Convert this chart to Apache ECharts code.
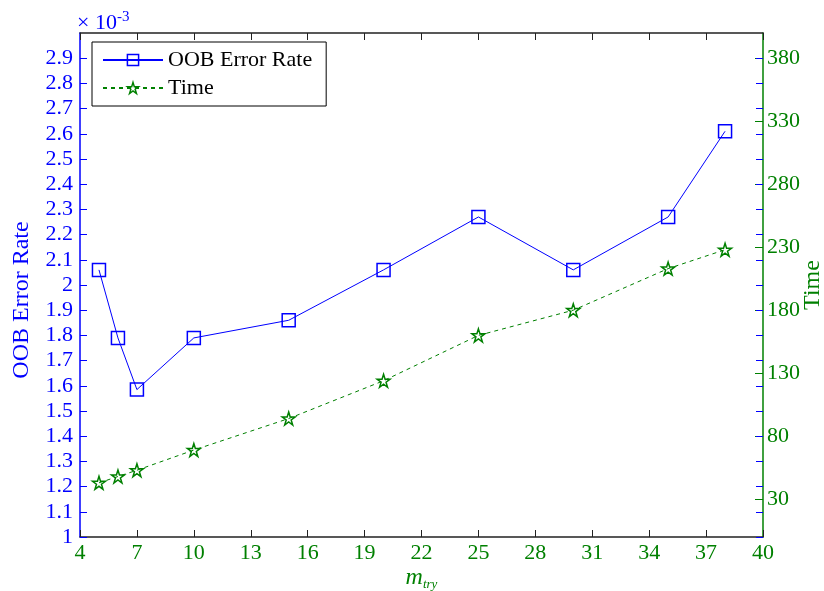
<!DOCTYPE html>
<html>
<head>
<meta charset="utf-8">
<script src="https://cdn.jsdelivr.net/npm/echarts@6/dist/echarts.min.js"></script>
<style>html,body{margin:0;padding:0;background:#fff}#c{width:824px;height:591px}</style>
</head>
<body>
<div id="c"></div>
<script>
var mtry = [5, 6, 7, 10, 15, 20, 25, 30, 35, 38];
var oobError = [2.06, 1.79, 1.585, 1.79, 1.86, 2.06, 2.27, 2.06, 2.27, 2.61];
var timeVals = [43, 48, 53, 69, 94, 124, 160, 180, 213, 228];
var xTicks = [4, 7, 10, 13, 16, 19, 22, 25, 28, 31, 34, 37, 40];
var leftTicks = [1, 1.1, 1.2, 1.3, 1.4, 1.5, 1.6, 1.7, 1.8, 1.9, 2, 2.1, 2.2, 2.3, 2.4, 2.5, 2.6, 2.7, 2.8, 2.9];
var rightTicks = [30, 80, 130, 180, 230, 280, 330, 380];

var FONT = 'Liberation Serif';
var FS = 22, NFS = 24;
var BLUE = '#0000ff', GREEN = '#008000';
var star = 'path://M50,2 L61,36 L97,36 L68,57 L79,92 L50,71 L21,92 L32,57 L3,36 L39,36 Z';

var chart = echarts.init(document.getElementById('c'));
chart.setOption({
  animation: false,
  backgroundColor: '#fff',
  title: {
    text: '× 10{s|-3}', left: 72, top: 5,
    textStyle: { fontFamily: FONT, fontSize: FS, fontWeight: 'normal', color: BLUE,
      rich: { s: { fontFamily: FONT, fontSize: 15, color: BLUE, verticalAlign: 'top', padding: [0,0,12,0] } } }
  },
  grid: { left: 80, right: 61, top: 33, bottom: 54, outerBoundsMode: 'none', containLabel: false },
  legend: {
    left: 92, top: 42, orient: 'vertical',
    padding: [7, 14, 7, 10], itemGap: 6, itemWidth: 60, itemHeight: 14,
    borderColor: '#000', borderWidth: 1, backgroundColor: '#fff',
    textStyle: { fontFamily: FONT, fontSize: FS, color: '#000' },
    data: [
      { name: 'OOB Error Rate', itemStyle: { color: 'rgba(255,255,255,0)', borderColor: BLUE, borderWidth: 1.5 } },
      { name: 'Time', itemStyle: { color: 'rgba(255,255,255,0)', borderColor: GREEN, borderWidth: 1.5 } }
    ]
  },
  xAxis: [{
    type: 'value', min: 4, max: 40, position: 'bottom',
    name: '{m|m}{s|try}', nameLocation: 'middle', nameGap: 27, nameMoveOverlap: false,
    nameTextStyle: { rich: {
      m: { fontFamily: FONT, fontSize: NFS, fontStyle: 'italic', color: GREEN },
      s: { fontFamily: FONT, fontSize: 13, fontStyle: 'italic', color: GREEN, padding: [14,0,0,0] } } },
    axisLine: { lineStyle: { color: '#222', width: 1.5 } },
    axisTick: { inside: true, length: 7, customValues: xTicks, lineStyle: { color: '#222' } },
    axisLabel: { customValues: xTicks, margin: 5, fontFamily: FONT, fontSize: FS, color: GREEN },
    splitLine: { show: false }
  }, {
    type: 'value', min: 4, max: 40, position: 'top',
    axisLine: { lineStyle: { color: '#222', width: 1.5 } },
    axisTick: { inside: true, length: 7, customValues: xTicks, lineStyle: { color: '#222' } },
    axisLabel: { show: false },
    splitLine: { show: false }
  }],
  yAxis: [{
    type: 'value', min: 1, max: 3, position: 'left',
    name: 'OOB Error Rate', nameLocation: 'middle', nameGap: 46, nameMoveOverlap: false,
    nameTextStyle: { fontFamily: FONT, fontSize: NFS, color: BLUE, padding: [0, 30, 0, 0] },
    axisLine: { show: true, lineStyle: { color: BLUE, width: 1.5 } },
    axisTick: { show: true, inside: true, length: 7, customValues: leftTicks, lineStyle: { color: BLUE } },
    axisLabel: { customValues: leftTicks, margin: 7, fontFamily: FONT, fontSize: FS, color: BLUE,
      formatter: function (v) { return String(+v.toFixed(1)); } },
    splitLine: { show: false }
  }, {
    type: 'value', min: 0, max: 400, position: 'right',
    name: 'Time', nameLocation: 'middle', nameGap: 38, nameRotate: 90, nameMoveOverlap: false,
    nameTextStyle: { fontFamily: FONT, fontSize: NFS, color: GREEN },
    axisLine: { show: true, lineStyle: { color: GREEN, width: 1.5 } },
    axisTick: { show: true, inside: true, length: 8, customValues: rightTicks, lineStyle: { color: GREEN } },
    axisLabel: { customValues: rightTicks, margin: 4, fontFamily: FONT, fontSize: FS, color: GREEN },
    splitLine: { show: false }
  }, {
    type: 'value', min: 1, max: 3, position: 'right',
    axisLine: { show: false },
    axisTick: { show: true, inside: true, length: 7, customValues: leftTicks, lineStyle: { color: BLUE } },
    axisLabel: { show: false },
    splitLine: { show: false }
  }],
  series: [{
    name: 'OOB Error Rate', type: 'line', xAxisIndex: 0, yAxisIndex: 0,
    data: mtry.map(function (x, i) { return [x, oobError[i]]; }),
    symbol: 'rect', symbolSize: 13,
    lineStyle: { color: BLUE, width: 1 },
    itemStyle: { color: 'rgba(255,255,255,0)', borderColor: BLUE, borderWidth: 1.5 },
    z: 3
  }, {
    name: 'Time', type: 'line', xAxisIndex: 0, yAxisIndex: 1,
    data: mtry.map(function (x, i) { return [x, timeVals[i]]; }),
    symbol: star, symbolSize: 13,
    lineStyle: { color: GREEN, width: 1, type: [4, 4] },
    itemStyle: { color: 'rgba(255,255,255,0)', borderColor: GREEN, borderWidth: 1.5 },
    z: 3
  }]
});
</script>
</body>
</html>
